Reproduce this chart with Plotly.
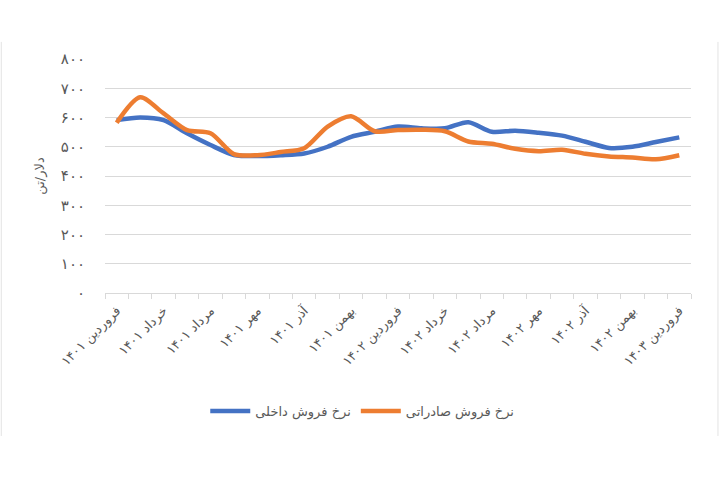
import plotly.graph_objects as go

months = ["فروردین", "اردیبهشت", "خرداد", "تیر", "مرداد", "شهریور",
          "مهر", "آبان", "آذر", "دی", "بهمن", "اسفند"]
years = ["۱۴۰۱", "۱۴۰۲", "۱۴۰۳"]
categories = [f"{months[i % 12]} {years[i // 12]}" for i in range(25)]

domestic = [591, 600, 591, 546, 506, 472, 468, 471, 477, 500, 534, 551, 569,
            563, 563, 584, 551, 555, 548, 538, 517, 496, 500, 516, 532]
export = [582, 669, 614, 557, 546, 475, 471, 482, 495, 569, 604, 553, 557,
          558, 553, 518, 510, 493, 485, 490, 476, 467, 463, 457, 471]

y_ticks = [0, 100, 200, 300, 400, 500, 600, 700, 800]
y_ticktext = ["۰", "۱۰۰", "۲۰۰", "۳۰۰", "۴۰۰", "۵۰۰", "۶۰۰", "۷۰۰", "۸۰۰"]
x_label_idx = list(range(0, 25, 2))
x_ticktext = [categories[i] for i in x_label_idx]

FONT = "DejaVu Sans"
GRAY = "#595959"

xs = list(range(len(categories)))
fig = go.Figure()
fig.add_trace(go.Scatter(x=xs, y=domestic, mode="lines", name="نرخ فروش داخلی",
                         line=dict(color="#4472C4", width=4.5, shape="spline", smoothing=0.8)))
fig.add_trace(go.Scatter(x=xs, y=export, mode="lines", name="نرخ فروش صادراتی",
                         line=dict(color="#ED7D31", width=4.5, shape="spline", smoothing=0.8)))

fig.update_layout(
    width=720, height=480,
    margin=dict(l=105, r=29, t=59, b=187),
    paper_bgcolor="white", plot_bgcolor="white",
    font=dict(family=FONT, size=13, color=GRAY),
    showlegend=True,
    legend=dict(orientation="h", x=0.439, xanchor="center", y=-0.504, yanchor="middle",
                font=dict(size=13, color=GRAY), itemwidth=40),
    xaxis=dict(
        range=[-0.5, 24.5], tickmode="array", tickvals=x_label_idx, ticktext=x_ticktext,
        tickangle=-45, ticks="", showgrid=False, zeroline=False,
        showline=True, linecolor="#d9d9d9", linewidth=1,
        tickfont=dict(size=13, color=GRAY), ticklabelstandoff=4,
        minor=dict(tick0=-0.5, dtick=1, ticks="outside", ticklen=5, tickcolor="#d9d9d9",
                   showgrid=False),
    ),
    yaxis=dict(
        range=[0, 800], tickmode="array", tickvals=y_ticks, ticktext=y_ticktext,
        showgrid=True, gridcolor="#d9d9d9", gridwidth=1, zeroline=False,
        showline=False, ticks="", ticklabelstandoff=19,
        tickfont=dict(size=15, color=GRAY),
        title=dict(text="دلار/تن", font=dict(size=13, color=GRAY), standoff=13),
    ),
    shapes=[
        dict(type="line", xref="paper", yref="paper", x0=-0.177, x1=-0.177, y0=1.073, y1=-0.611,
             line=dict(color="#e3e3e3", width=1)),
        dict(type="line", xref="paper", yref="paper", x0=1.046, x1=1.046, y0=1.073, y1=-0.611,
             line=dict(color="#e3e3e3", width=1)),
    ],
)

fig.write_html("out.html")
